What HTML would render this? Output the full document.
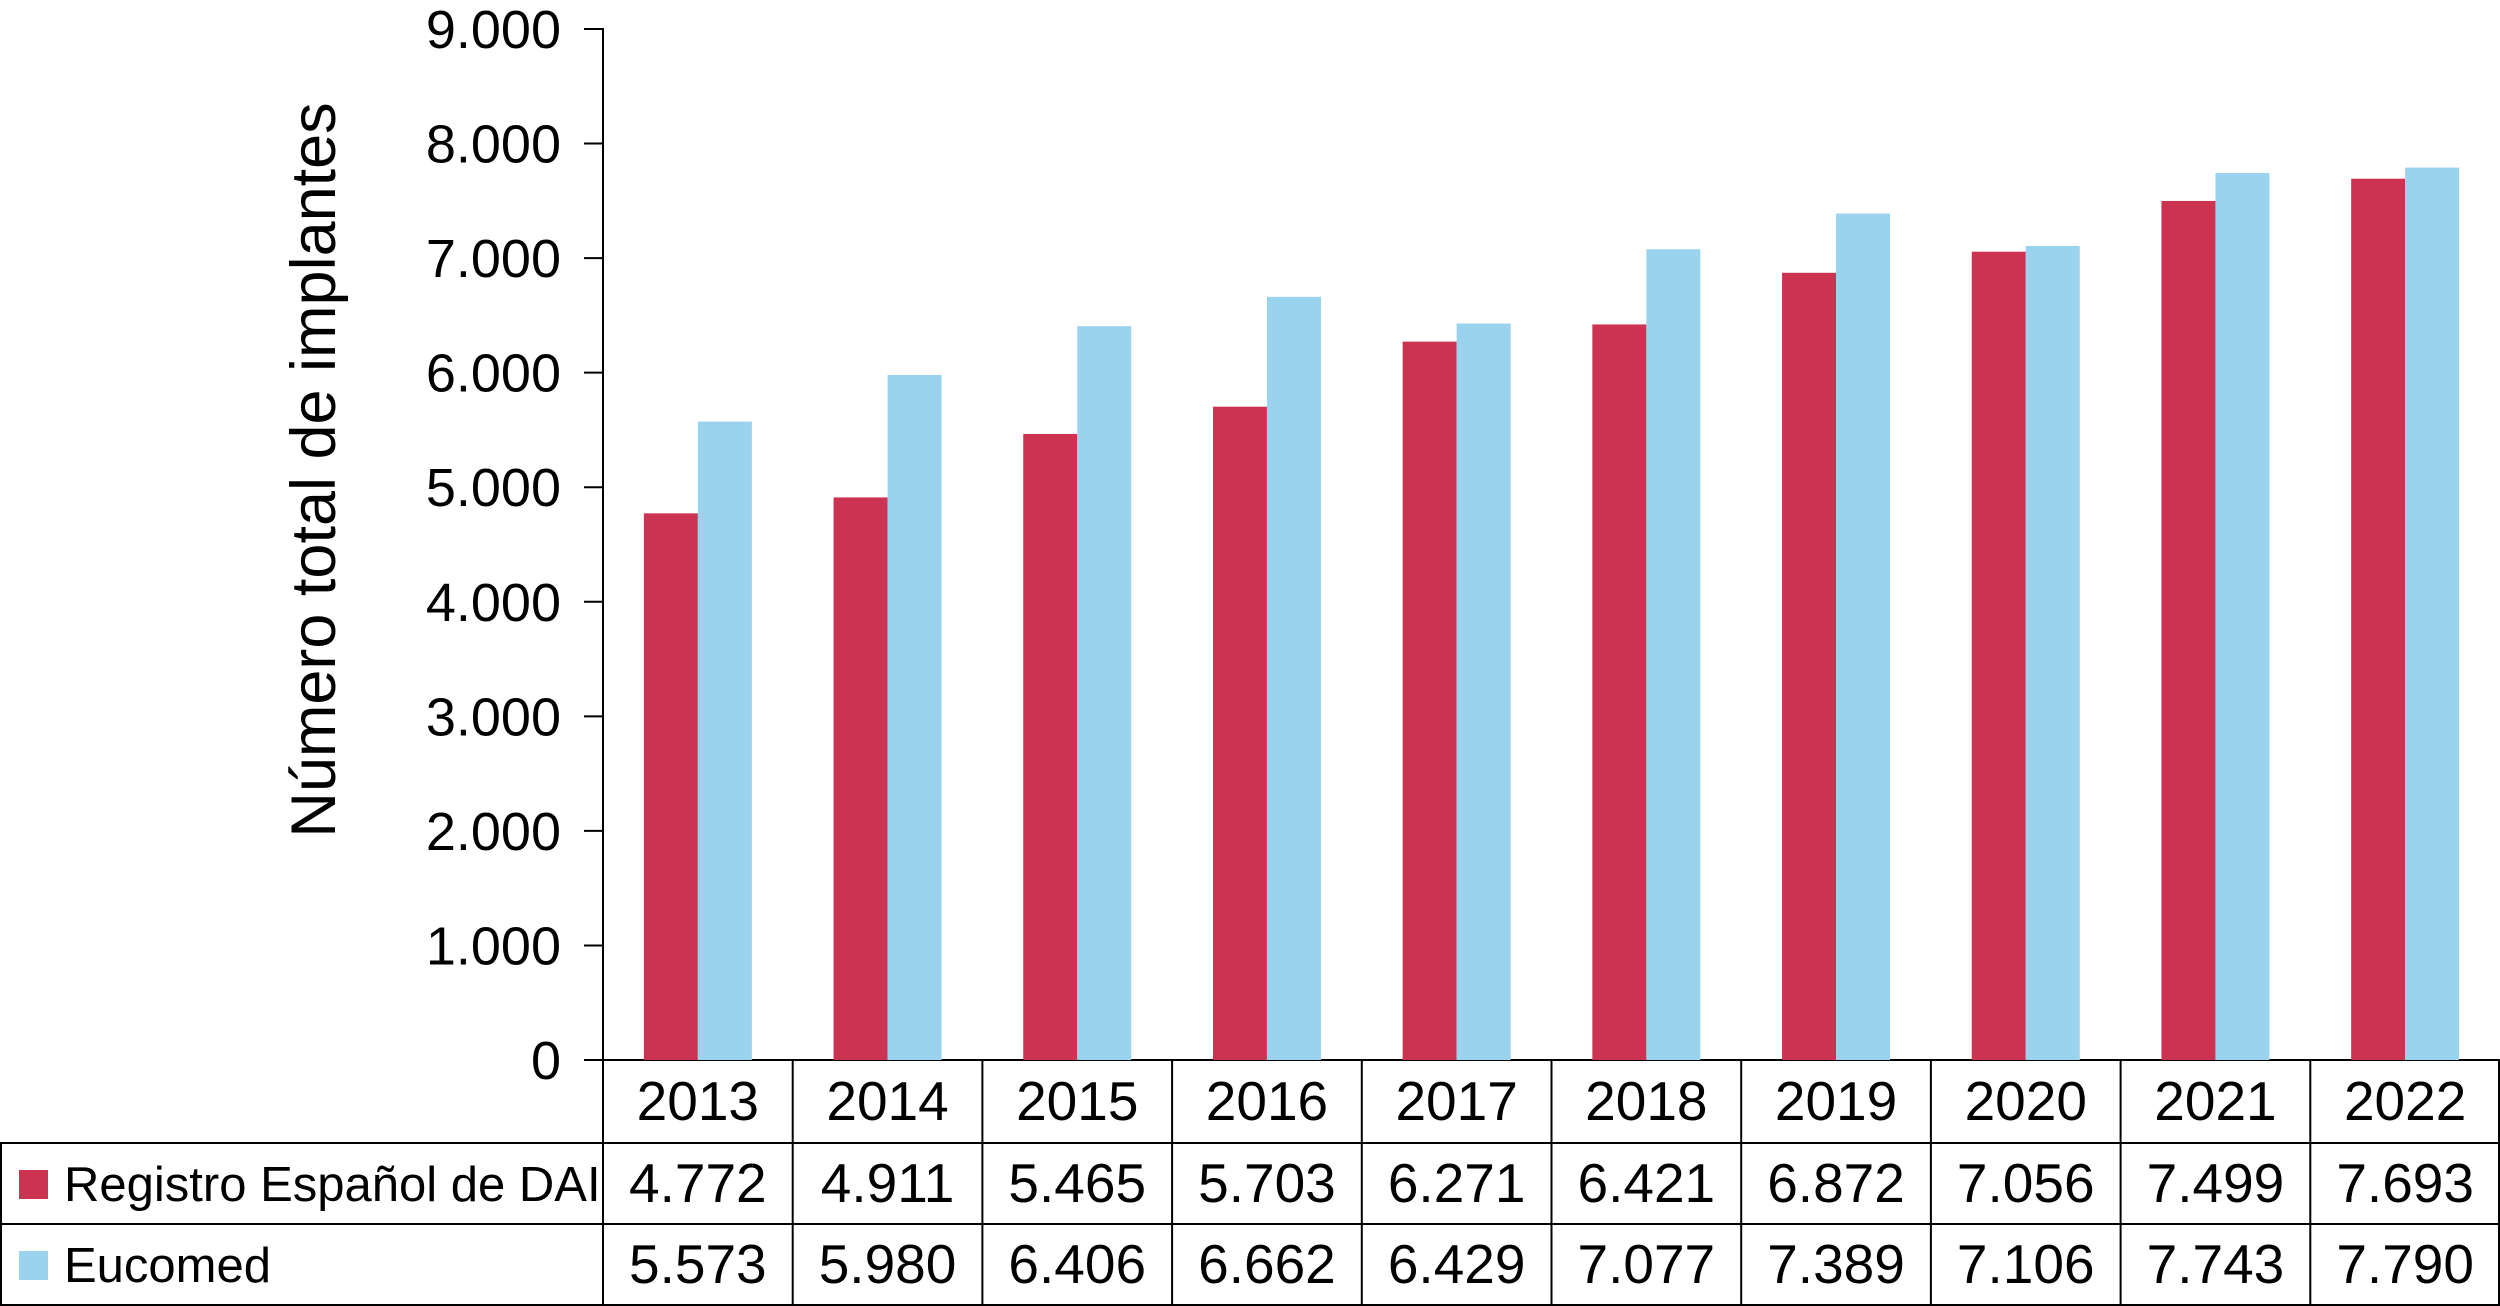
<!DOCTYPE html>
<html><head><meta charset="utf-8"><style>
html,body{margin:0;padding:0;background:#fff;}
svg{display:block;font-family:"Liberation Sans",Arial,sans-serif;}
</style></head><body>
<svg id="chart" width="2500" height="1306" viewBox="0 0 2500 1306" xmlns="http://www.w3.org/2000/svg">
<g id="grid"></g>
<g id="bars"></g>
<g id="labels"></g>
<text transform="translate(335,470) rotate(-90)" text-anchor="middle" font-size="63" fill="#000">Número total de implantes</text>
</svg>
<script>
const categories = ["2013","2014","2015","2016","2017","2018","2019","2020","2021","2022"];
const registroValues = [4772,4911,5465,5703,6271,6421,6872,7056,7499,7693];
const eucomedValues = [5573,5980,6406,6662,6429,7077,7389,7106,7743,7790];
const registroLabels = ["4.772","4.911","5.465","5.703","6.271","6.421","6.872","7.056","7.499","7.693"];
const eucomedLabels = ["5.573","5.980","6.406","6.662","6.429","7.077","7.389","7.106","7.743","7.790"];
const yTicks = [0,1000,2000,3000,4000,5000,6000,7000,8000,9000];
const yTickLabels = ["0","1.000","2.000","3.000","4.000","5.000","6.000","7.000","8.000","9.000"];

const NS="http://www.w3.org/2000/svg";
const X0=603, X1=2500, Y0=1060, YTOP=29, YMAX=9000;
const colW=(X1-X0)/categories.length, barW=54;
const yS=v=>Y0-(v/YMAX)*(Y0-YTOP);
const xC=i=>X0+colW*(i+0.5);
function mk(tag,attrs,parent,text){const e=document.createElementNS(NS,tag);for(const k in attrs)e.setAttribute(k,attrs[k]);if(text!==undefined)e.textContent=text;parent.appendChild(e);return e;}
const grid=document.getElementById('grid'),bars=document.getElementById('bars'),labels=document.getElementById('labels');
const line=(x1,y1,x2,y2,name)=>{const l=mk('line',{x1,y1,x2,y2,stroke:'#000','stroke-width':2},grid);

};
line(X0,YTOP-1,X0,Y0,'y-axis');
yTicks.forEach((v,i)=>{line(X0-19,yS(v),X0,yS(v),'y-tick');
const t=mk('text',{x:X0-42,y:yS(v)+19,'text-anchor':'end','font-size':54},labels,yTickLabels[i]);

});
line(X0,Y0,X1,Y0,'x-axis');
line(0,1143,X1,1143,'table-row-line');
line(0,1224,X1,1224,'table-row-line');
line(0,1305,X1,1305,'table-bottom');
line(1,1143,1,1306,'table-left');
for(let i=0;i<=categories.length;i++){line(Math.min(X0+colW*i,2499),Y0,Math.min(X0+colW*i,2499),1306,'table-col-line');}
categories.forEach((c,i)=>{
const r=mk('rect',{x:xC(i)-barW,y:yS(registroValues[i]),width:barW,height:Y0-yS(registroValues[i]),fill:'#CC3350'},bars);


const b=mk('rect',{x:xC(i),y:yS(eucomedValues[i]),width:barW,height:Y0-yS(eucomedValues[i]),fill:'#99D3EE'},bars);


const t=mk('text',{x:xC(i),y:1120,'text-anchor':'middle','font-size':55},labels,c);


const t1=mk('text',{x:xC(i),y:1202,'text-anchor':'middle','font-size':55},labels,registroLabels[i]);


const t2=mk('text',{x:xC(i),y:1283,'text-anchor':'middle','font-size':55},labels,eucomedLabels[i]);


});
const s1=mk('rect',{x:19,y:1170,width:29,height:29,fill:'#CC3350'},labels);


const l1=mk('text',{x:64,y:1201,'font-size':49},labels,'Registro Español de DAI');


const s2=mk('rect',{x:19,y:1251,width:29,height:29,fill:'#99D3EE'},labels);


const l2=mk('text',{x:64,y:1282,'font-size':49},labels,'Eucomed');


</script>
</body></html>
